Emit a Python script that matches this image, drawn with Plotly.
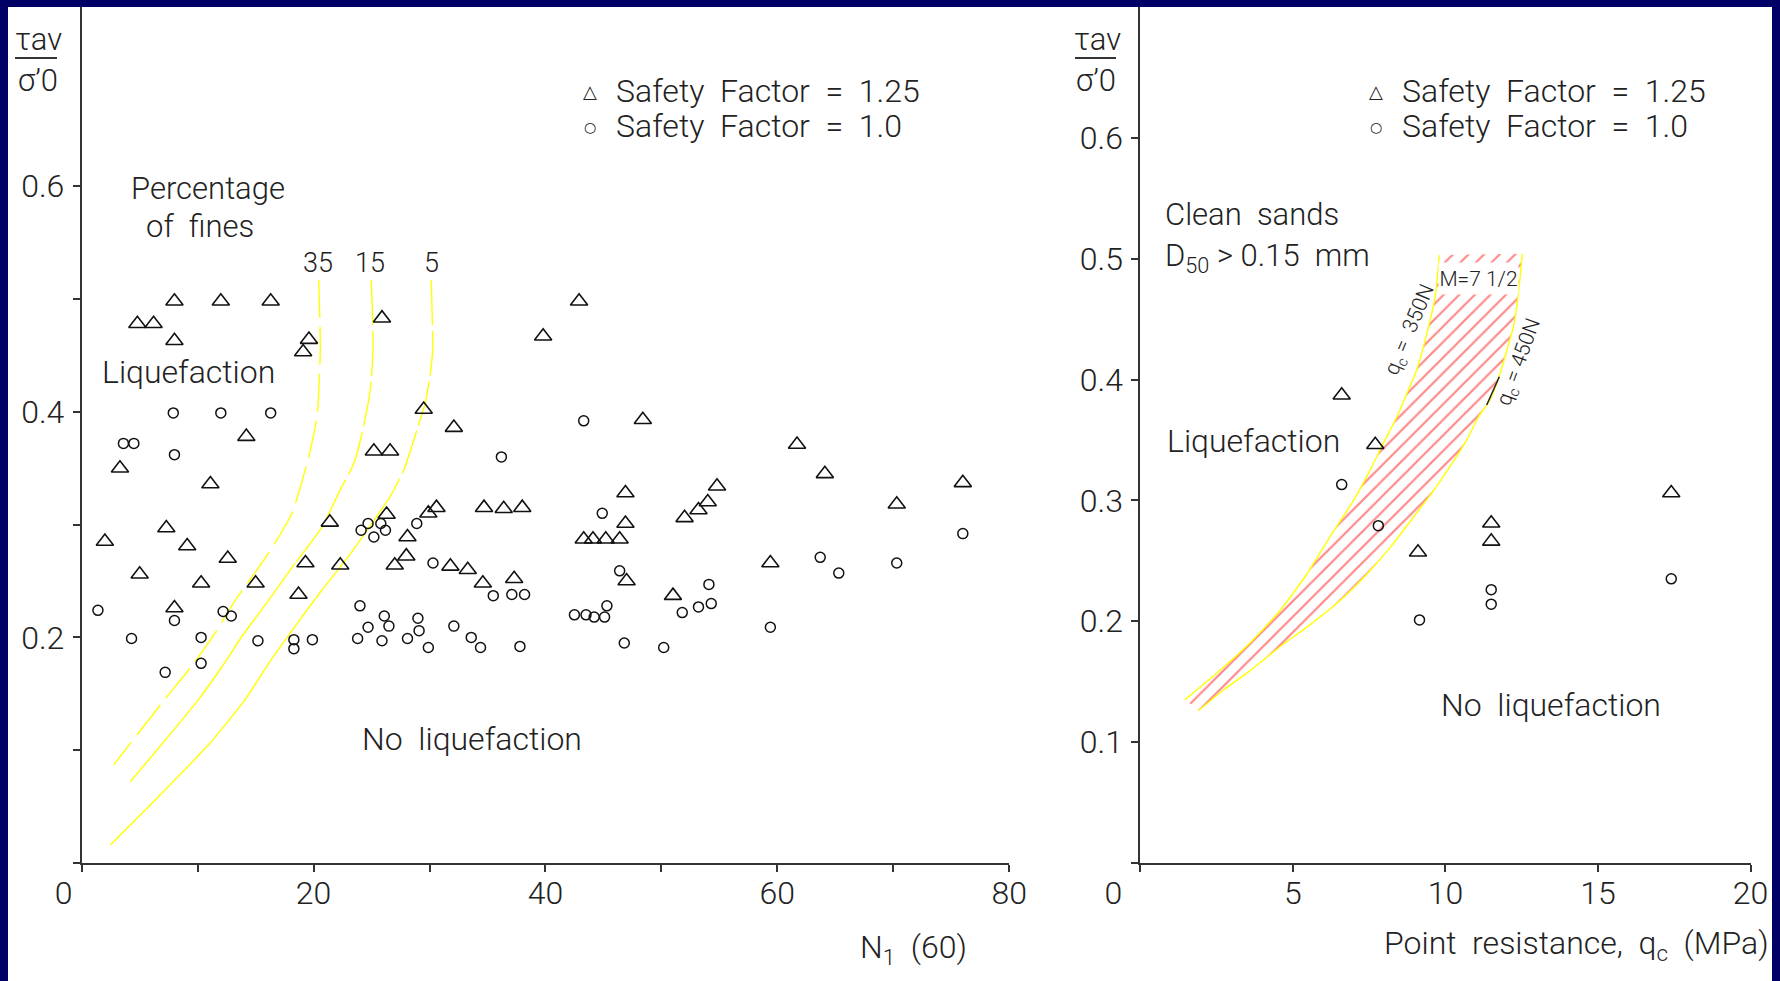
import plotly.graph_objects as go

W, H = 1780, 981

# ---------------- Left panel : SPT  N1(60) ----------------
spt_sf125_n = [8.0, 12.0, 16.3, 4.8, 6.2, 8.0, 19.6, 19.1, 25.9, 29.5, 32.1, 39.8, 42.9,
               14.2, 25.2, 26.6, 3.3, 11.1, 30.6, 29.9, 34.7, 36.4, 38.0, 26.3, 21.4, 7.3,
               2.0, 9.1, 28.1, 28.0, 27.0, 12.6, 19.3, 22.3, 31.8, 33.3, 34.6, 37.3, 5.0,
               10.3, 15.0, 18.7, 8.0,
               48.4, 61.7, 64.1, 76.0, 70.3, 46.9, 46.9, 43.3, 44.1, 45.2, 46.4, 54.8,
               54.0, 53.2, 52.0, 47.0, 51.0, 59.4]
spt_sf125_t = [0.498, 0.498, 0.498, 0.478, 0.478, 0.463, 0.464, 0.453, 0.483, 0.402, 0.386,
               0.467, 0.498, 0.378, 0.365, 0.365, 0.350, 0.336, 0.315, 0.310, 0.315, 0.314,
               0.315, 0.309, 0.302, 0.297, 0.285, 0.281, 0.289, 0.272, 0.264, 0.270, 0.266,
               0.264, 0.263, 0.260, 0.248, 0.252, 0.256, 0.248, 0.248, 0.238, 0.226,
               0.393, 0.371, 0.345, 0.337, 0.318, 0.328, 0.301, 0.287, 0.287, 0.287, 0.287,
               0.334, 0.320, 0.313, 0.306, 0.250, 0.237, 0.266]

spt_sf10_n = [7.9, 12.0, 16.3, 3.6, 4.5, 8.0, 36.2, 43.3, 1.4, 8.0, 4.3, 10.3, 10.3, 7.2,
              12.2, 12.9, 15.2, 18.3, 18.3, 19.9, 24.0, 24.7, 23.8, 26.1, 26.5, 25.9, 28.1,
              29.0, 29.1, 29.9, 32.1, 33.6, 34.4, 37.8, 24.1, 24.7, 25.2, 25.8, 26.2, 28.9,
              30.3, 35.5, 37.1, 38.2,
              44.9, 46.4, 42.5, 43.5, 44.2, 45.1, 45.3, 46.8, 50.2, 51.8, 53.2, 54.3, 54.1,
              59.4, 63.7, 65.3, 70.3, 76.0]
spt_sf10_t = [0.399, 0.399, 0.399, 0.372, 0.372, 0.362, 0.360, 0.392, 0.224, 0.215, 0.199,
              0.200, 0.177, 0.169, 0.223, 0.219, 0.197, 0.198, 0.190, 0.198, 0.228, 0.209,
              0.199, 0.219, 0.210, 0.197, 0.199, 0.217, 0.206, 0.191, 0.210, 0.200, 0.191,
              0.192, 0.295, 0.301, 0.289, 0.301, 0.295, 0.301, 0.266, 0.237, 0.238, 0.238,
              0.310, 0.259, 0.220, 0.220, 0.218, 0.218, 0.228, 0.195, 0.191, 0.222, 0.227,
              0.230, 0.247, 0.209, 0.271, 0.257, 0.266, 0.292]

# boundary curves for percentage of fines (35, 15, 5)
fines35_n = [20.44, 20.58, 20.30, 19.58, 18.85, 18.14, 16.99, 15.55, 13.25, 11.52, 9.51, 6.93, 2.76]
fines35_t = [0.517, 0.455, 0.396, 0.360, 0.333, 0.310, 0.289, 0.266, 0.233, 0.204, 0.175, 0.142, 0.087]
fines15_n = [24.98, 25.13, 24.84, 24.18, 23.46, 22.31, 20.73, 18.42, 16.13, 13.83, 12.10, 10.09, 7.21, 4.19]
fines15_t = [0.517, 0.455, 0.416, 0.381, 0.354, 0.331, 0.298, 0.266, 0.233, 0.201, 0.174, 0.145, 0.109, 0.072]
fines5_n = [30.15, 30.27, 30.07, 29.64, 28.92, 27.77, 26.62, 25.04, 23.03, 20.73, 18.42, 16.13, 14.11, 10.95, 6.64, 2.47]
fines5_t = [0.517, 0.455, 0.434, 0.408, 0.384, 0.348, 0.325, 0.301, 0.272, 0.242, 0.210, 0.177, 0.145, 0.105, 0.059, 0.016]
fines35_dash_end = len(fines35_n)   # dashed all the way
fines15_dash_end = 8                # dashed upper part, solid below
fines5_dash_end = 7

# ---------------- Right panel : CPT  qc ----------------
cpt_sf125_q = [6.6, 7.7, 9.1, 11.5, 11.5, 17.4]
cpt_sf125_t = [0.387, 0.346, 0.257, 0.281, 0.266, 0.306]
cpt_sf10_q = [6.6, 7.8, 9.15, 11.5, 11.5, 17.4]
cpt_sf10_t = [0.313, 0.279, 0.201, 0.226, 0.214, 0.235]

q350_q = [9.80, 9.66, 9.39, 9.06, 8.73, 8.41, 8.02, 7.53, 6.99, 6.22, 5.46, 4.59, 3.60, 2.51, 1.47]
q350_t = [0.503, 0.468, 0.438, 0.408, 0.388, 0.369, 0.350, 0.325, 0.300, 0.270, 0.239, 0.209, 0.182, 0.157, 0.135]
q450_q = [12.52, 12.39, 12.23, 12.01, 11.79, 11.46, 11.08, 10.70, 10.15, 9.61, 8.95, 8.19, 7.43, 6.55, 5.46, 4.59, 3.60, 2.73, 1.91]
q450_t = [0.504, 0.471, 0.444, 0.424, 0.405, 0.383, 0.369, 0.350, 0.328, 0.308, 0.286, 0.261, 0.239, 0.217, 0.195, 0.179, 0.159, 0.143, 0.126]

# ---------------- ticks ----------------
FS = "\u2007"
left_xticks = [0, 20, 40, 60, 80]
left_xlabels = ["0" + FS * 2, "20", "40", "60", "80"]
left_xminor = [10, 30, 50, 70]
left_yticks = [0.2, 0.4, 0.6]
left_ylabels = ["0.2", "0.4", "0.6"]
left_yminor = [0, 0.1, 0.3, 0.5]
right_xticks = [0, 5, 10, 15, 20]
right_xlabels = ["0" + FS * 3, "5", "10", "15", "20"]
right_yticks = [0.1, 0.2, 0.3, 0.4, 0.5, 0.6]
right_ylabels = ["0.1", "0.2", "0.3", "0.4", "0.5", "0.6"]
right_yminor = [0]

FONT = "Roboto, Liberation Sans, Arial, sans-serif"
WGT = 300
TXT = "#222222"
AX = "#333333"
YEL = "#ffff00"


def PX(x):
    return x / W


def PY(y):
    return 1 - y / H


fig = go.Figure()

mk_tri = dict(symbol="triangle-up-open", size=15, color="#111111", line=dict(width=1.6, color="#111111"))
mk_cir = dict(symbol="circle-open", size=10, color="#111111", line=dict(width=1.5, color="#111111"))

# fines curves
for cn, ct, k, dash in [(fines35_n, fines35_t, fines35_dash_end, "38px,9px"),
                        (fines15_n, fines15_t, fines15_dash_end, "45px,6px"),
                        (fines5_n, fines5_t, fines5_dash_end, "45px,6px")]:
    fig.add_trace(go.Scatter(x=cn[:k], y=ct[:k], mode="lines", xaxis="x", yaxis="y",
                             line=dict(color=YEL, width=1.4, dash=dash, shape="spline", smoothing=0.6),
                             showlegend=False, hoverinfo="skip"))
    if k < len(cn):
        fig.add_trace(go.Scatter(x=cn[k - 1:], y=ct[k - 1:], mode="lines", xaxis="x", yaxis="y",
                                 line=dict(color=YEL, width=1.4, shape="spline", smoothing=0.6),
                                 showlegend=False, hoverinfo="skip"))

fig.add_trace(go.Scatter(x=spt_sf125_n, y=spt_sf125_t, mode="markers", name="Safety Factor = 1.25",
                         marker=mk_tri, xaxis="x", yaxis="y", showlegend=False))
fig.add_trace(go.Scatter(x=spt_sf10_n, y=spt_sf10_t, mode="markers", name="Safety Factor = 1.0",
                         marker=mk_cir, xaxis="x", yaxis="y", showlegend=False))

# hatched band M = 7 1/2
fig.add_trace(go.Scatter(x=q350_q + q450_q[::-1], y=q350_t + q450_t[::-1], mode="lines",
                         xaxis="x2", yaxis="y2", fill="toself", fillcolor="rgba(0,0,0,0)",
                         fillpattern=dict(shape="/", size=11, solidity=0.2, fgcolor="#ff1010",
                                          bgcolor="rgba(255,255,255,0)"),
                         line=dict(width=0, color="rgba(0,0,0,0)"), showlegend=False, hoverinfo="skip"))
for bq, bt in [(q350_q, q350_t), (q450_q, q450_t)]:
    fig.add_trace(go.Scatter(x=bq, y=bt, mode="lines", xaxis="x2", yaxis="y2",
                             line=dict(color=YEL, width=1.4, shape="spline", smoothing=0.5),
                             showlegend=False, hoverinfo="skip"))

fig.add_trace(go.Scatter(x=cpt_sf125_q, y=cpt_sf125_t, mode="markers", name="Safety Factor = 1.25",
                         marker=mk_tri, xaxis="x2", yaxis="y2", showlegend=False))
fig.add_trace(go.Scatter(x=cpt_sf10_q, y=cpt_sf10_t, mode="markers", name="Safety Factor = 1.0",
                         marker=mk_cir, xaxis="x2", yaxis="y2", showlegend=False))

axis_common = dict(showline=True, linecolor=AX, linewidth=2, ticks="outside", ticklen=7,
                   tickwidth=2, tickcolor=AX, showgrid=False, zeroline=False, tickmode="array",
                   tickfont=dict(family=FONT, size=32, color=TXT, weight=WGT), fixedrange=True,
                   automargin=False)


def minor(vals):
    return dict(tickmode="array", tickvals=vals, ticks="outside", ticklen=7, tickwidth=2,
                tickcolor=AX, showgrid=False)


fig.update_layout(
    width=W, height=H, autosize=False,
    margin=dict(l=0, r=0, t=0, b=0, pad=0, autoexpand=False),
    paper_bgcolor="#000066", plot_bgcolor="white",
    xaxis=dict(domain=[PX(81.7), PX(1009.2)], range=[0, 80], anchor="y",
               tickvals=left_xticks, ticktext=left_xlabels, ticklabelstandoff=-6,
               minor=minor(left_xminor), **axis_common),
    yaxis=dict(domain=[PY(863), PY(7)], range=[0, (863 - 7) / 1128.0], anchor="x",
               tickvals=left_yticks, ticktext=left_ylabels, ticklabelstandoff=2,
               minor=minor(left_yminor), **axis_common),
    xaxis2=dict(domain=[PX(1140.3), PX(1750.6)], range=[0, 20], anchor="y2",
                tickvals=right_xticks, ticktext=right_xlabels, ticklabelstandoff=-6, **axis_common),
    yaxis2=dict(domain=[PY(862.7), PY(7)], range=[0, (862.7 - 7) / 1208.0], anchor="x2",
                tickvals=right_yticks, ticktext=right_ylabels, ticklabelstandoff=2,
                minor=minor(right_yminor), **axis_common),
    showlegend=False,
)

shapes = [
    dict(type="rect", xref="paper", yref="paper", x0=PX(8), x1=PX(1772), y0=0, y1=PY(7),
         fillcolor="white", line=dict(width=0), layer="below"),
    dict(type="line", xref="paper", yref="paper", x0=PX(15), x1=PX(57), y0=PY(58), y1=PY(58),
         line=dict(color="#333333", width=2)),
    dict(type="line", xref="paper", yref="paper", x0=PX(1075), x1=PX(1116), y0=PY(58), y1=PY(58),
         line=dict(color="#333333", width=2)),
    dict(type="line", xref="paper", yref="paper", x0=PX(1486.7), x1=PX(1499.3), y0=PY(405), y1=PY(376.7),
         line=dict(color="#222222", width=1.5)),
]
fig.update_layout(shapes=shapes)


def ann(text, x, y, size=32, xanchor="center", yanchor="middle", angle=0, family=FONT, weight=WGT, **kw):
    return dict(text=text, x=PX(x), y=PY(y), xref="paper", yref="paper", showarrow=False,
                xanchor=xanchor, yanchor=yanchor, textangle=angle,
                font=dict(family=family, size=size, color=TXT, weight=weight), **kw)


annotations = [
    # left panel
    ann("\u03c4av", 38, 40, size=31),
    ann("\u03c3\u20190", 38, 80, size=31),
    ann("Percentage", 208, 188, size=31),
    ann("of  fines", 200, 226, size=31),
    ann("35", 318, 263, size=27),
    ann("15", 370, 263, size=27),
    ann("5", 431, 263, size=27),
    ann("Liquefaction", 188, 372, size=32),
    ann("No  liquefaction", 472, 739, size=32),
    ann("\u25b3", 590, 92, size=18, family="DejaVu Sans", weight=400),
    ann("\u25cb", 590, 127, size=14, family="DejaVu Sans", weight=400),
    ann("Safety  Factor  =  1.25", 614, 91, xanchor="left"),
    ann("Safety  Factor  =  1.0", 614, 126, xanchor="left"),
    ann("N<sub>1</sub>  (60)", 913, 949),
    # right panel
    ann("\u03c4av", 1097, 40, size=31),
    ann("\u03c3\u20190", 1096, 80, size=31),
    ann("\u25b3", 1376, 92, size=18, family="DejaVu Sans", weight=400),
    ann("\u25cb", 1376, 127, size=14, family="DejaVu Sans", weight=400),
    ann("Safety  Factor  =  1.25", 1400, 91, xanchor="left"),
    ann("Safety  Factor  =  1.0", 1400, 126, xanchor="left"),
    ann("Clean  sands", 1163, 215, size=31, xanchor="left"),
    ann("D<sub>50</sub> > 0.15  mm", 1163, 257, size=31, xanchor="left"),
    ann("M=7 1/2", 1478, 278.5, size=21, bgcolor="white", width=79, height=31, borderpad=0),
    ann("q<sub>c</sub> =  350N", 1410, 330, size=21, angle=-67),
    ann("q<sub>c</sub> = 450N", 1520, 363, size=21, angle=-70),
    ann("Liquefaction", 1165, 441, size=32, xanchor="left"),
    ann("No  liquefaction", 1551, 705, size=32),
    ann("Point  resistance,  q<sub>c</sub>  (MPa)", 1771, 945, xanchor="right"),
]
fig.update_layout(annotations=annotations)

fig.write_html("out.html")
